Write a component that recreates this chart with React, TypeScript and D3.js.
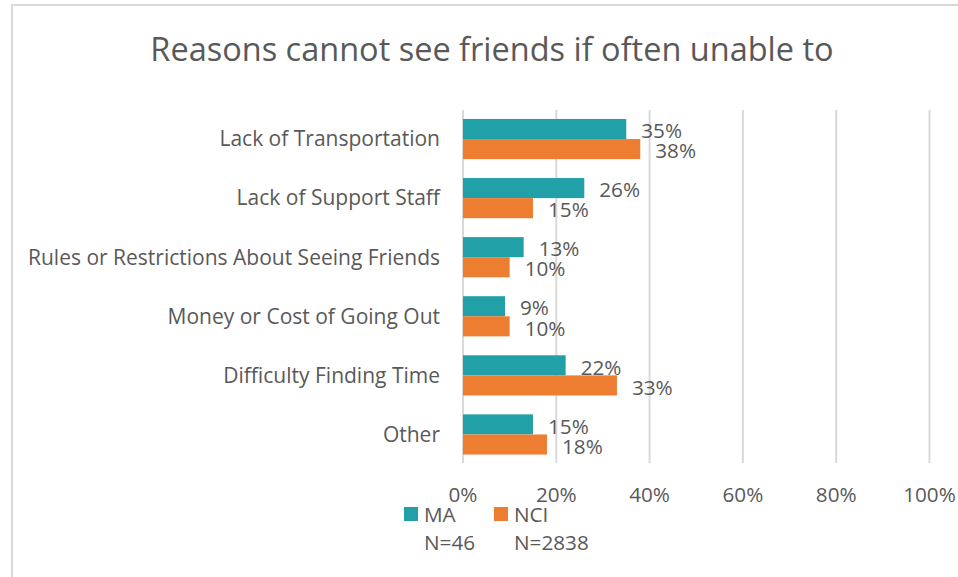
import React from "react";
import * as d3 from "d3";

const categories = [
  "Lack of Transportation",
  "Lack of Support Staff",
  "Rules or Restrictions About Seeing Friends",
  "Money or Cost of Going Out",
  "Difficulty Finding Time",
  "Other",
];
const maValues = [0.35, 0.26, 0.13, 0.09, 0.22, 0.15];
const nciValues = [0.38, 0.15, 0.10, 0.10, 0.33, 0.18];
const seriesNames = ["MA", "NCI"];
const seriesN = ["N=46", "N=2838"];
const xTicks = [0, 0.2, 0.4, 0.6, 0.8, 1.0];
const title = "Reasons cannot see friends if often unable to";

const W = 958;
const H = 577;
const TEAL = "#21A0A8";
const ORANGE = "#ED7D31";
const TEXT = "#595959";
const GRID = "#D9D9D9";
const FONT = "'Open Sans', 'Noto Sans', sans-serif";
const FS = 20.7;

export default function App() {
  const x = d3.scaleLinear().domain([0, 1]).range([463, 929.5]);
  const y = d3
    .scaleBand<string>()
    .domain(categories)
    .range([109.5, 464])
    .paddingInner(0.32)
    .paddingOuter(0.16);
  const sub = d3
    .scaleBand<string>()
    .domain(seriesNames)
    .range([0, y.bandwidth()]);
  const colors = [TEAL, ORANGE];
  const series = [maValues, nciValues];
  const pct = d3.format(".0%");

  return (
    <div style={{ position: "absolute", left: 0, top: 0 }}>
      <svg width={W} height={H} style={{ display: "block", fontFamily: FONT }}>
        <rect x={0} y={0} width={W} height={H} fill="#fff" />
        <path d={`M12,${H} L12,5 L${W},5`} fill="none" stroke={GRID} strokeWidth={2} />
        <text x={492} y={61} textAnchor="middle" fontSize={32.5} fill={TEXT}>
          {title}
        </text>
        {xTicks.map((t) => (
          <g key={t}>
            <line x1={x(t)} x2={x(t)} y1={110} y2={463} stroke={GRID} strokeWidth={2} />
            <text x={x(t)} y={502} textAnchor="middle" fontSize={FS} fill={TEXT}>
              {pct(t)}
            </text>
          </g>
        ))}
        {categories.map((c, i) => (
          <g key={c}>
            <text
              x={440}
              y={(y(c) as number) + y.bandwidth() / 2}
              dy="0.35em"
              textAnchor="end"
              fontSize={21}
              fill={TEXT}
            >
              {c}
            </text>
            {series.map((vals, s) => {
              const by = (y(c) as number) + (sub(seriesNames[s]) as number);
              const bh = sub.bandwidth();
              return (
                <g key={s}>
                  <rect
                    x={x(0)}
                    y={by}
                    width={x(vals[i]) - x(0)}
                    height={bh}
                    fill={colors[s]}
                  />
                  <text
                    x={x(vals[i]) + 15}
                    y={by + bh / 2 + 2}
                    dy="0.35em"
                    fontSize={FS}
                    fill={TEXT}
                  >
                    {pct(vals[i])}
                  </text>
                </g>
              );
            })}
          </g>
        ))}
        {seriesNames.map((n, s) => {
          const lx = s === 0 ? 404 : 494;
          return (
            <g key={n}>
              <rect x={lx} y={507} width={14} height={14} fill={colors[s]} />
              <text x={lx + 20} y={521.5} fontSize={FS} fill={TEXT}>
                {n}
              </text>
              <text x={lx + 20} y={550} fontSize={FS} fill={TEXT}>
                {seriesN[s]}
              </text>
            </g>
          );
        })}
      </svg>
    </div>
  );
}
